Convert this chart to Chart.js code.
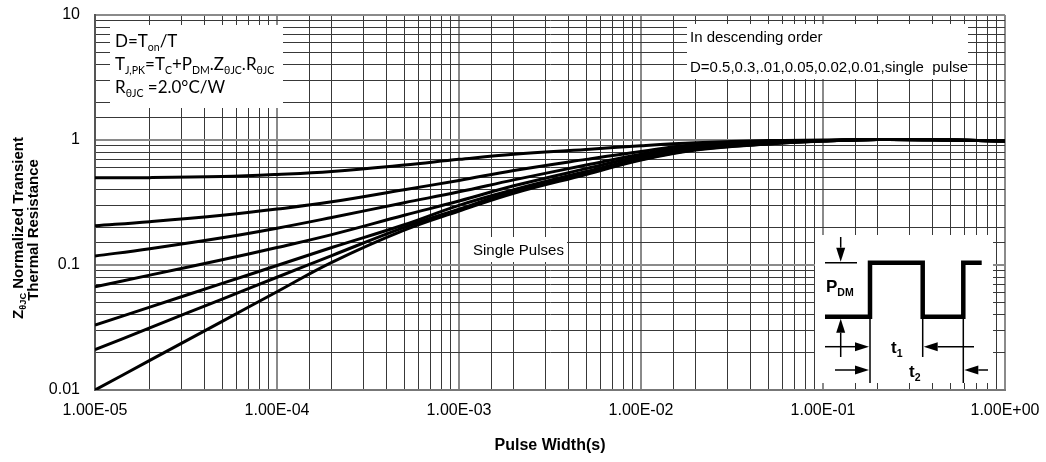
<!DOCTYPE html>
<html>
<head>
<meta charset="utf-8">
<script src="https://cdn.jsdelivr.net/npm/chart.js@4.4.0/dist/chart.umd.min.js"></script>
<style>
  html, body { margin: 0; padding: 0; background: #fff; }
  #wrap { width: 1046px; height: 462px; }
</style>
</head>
<body>
<div id="wrap"><canvas id="zth"></canvas></div>
<script>
// pulse width (s) and normalized Zth curves
const pulseWidth = [1e-5, 2e-5, 5e-5, 1e-4, 2e-4, 5e-4, 1e-3, 2e-3, 5e-3, 1e-2, 2e-2, 5e-2, 1e-1, 2e-1, 5e-1, 1];
const zD050 = [0.50, 0.50, 0.51, 0.53, 0.56, 0.63, 0.70, 0.77, 0.84, 0.90, 0.95, 0.99, 1.00, 1.01, 1.00, 0.98];
const zD030 = [0.206, 0.222, 0.25, 0.28, 0.32, 0.40, 0.475, 0.57, 0.70, 0.81, 0.92, 0.97, 0.99, 1.01, 1.00, 0.98];
const zD010 = [0.118, 0.135, 0.165, 0.197, 0.24, 0.315, 0.385, 0.48, 0.63, 0.77, 0.89, 0.96, 0.99, 1.01, 1.00, 0.98];
const zD005 = [0.067, 0.083, 0.11, 0.138, 0.175, 0.25, 0.325, 0.43, 0.59, 0.74, 0.87, 0.95, 0.99, 1.01, 1.00, 0.98];
const zD002 = [0.033, 0.046, 0.0713, 0.099, 0.138, 0.21, 0.30, 0.40, 0.56, 0.71, 0.85, 0.94, 0.98, 1.01, 1.00, 0.98];
const zD001 = [0.021, 0.0314, 0.0534, 0.0798, 0.119, 0.20, 0.28, 0.39, 0.545, 0.70, 0.84, 0.93, 0.98, 1.01, 1.00, 0.98];
const zSingle = [0.01, 0.01725, 0.0354, 0.0611, 0.105, 0.19, 0.27, 0.375, 0.53, 0.69, 0.83, 0.93, 0.98, 1.01, 1.00, 0.98];

const xDecades = [1e-5, 1e-4, 1e-3, 1e-2, 1e-1, 1];
const xTickLabels = ["1.00E-05", "1.00E-04", "1.00E-03", "1.00E-02", "1.00E-01", "1.00E+00"];
const yDecades = [0.01, 0.1, 1, 10];
const yTickLabels = ["0.01", "0.1", "1", "10"];

const FONT = "'Liberation Sans', Arial, sans-serif";

const isDecade = (v) => Math.abs(Math.log10(v) - Math.round(Math.log10(v))) < 1e-6;
const decadeLabel = (v, decades, labels) => {
  const i = decades.findIndex((d) => Math.abs(Math.log10(d) - Math.log10(v)) < 1e-6);
  return i >= 0 ? labels[i] : "";
};

const series = [zD050, zD030, zD010, zD005, zD002, zD001, zSingle];
const datasets = series.map((vals) => ({
  data: pulseWidth.map((t, i) => ({ x: t, y: vals[i] })),
  borderColor: "#000",
  borderWidth: 3,
  pointRadius: 0,
  fill: false,
  tension: 0.4,
}));

// draws text with subscript parts, returns width
function rich(ctx, parts, x, y, size, weight, family, measureOnly) {
  let cx = x;
  parts.forEach(([txt, sub]) => {
    const s = sub ? size * 0.62 : size;
    ctx.font = `${weight} ${s}px ${family}`;
    if (!measureOnly) ctx.fillText(txt, cx, sub ? y + size * 0.22 : y);
    cx += ctx.measureText(txt).width;
  });
  return cx - x;
}

function arrow(ctx, x1, y1, x2, y2) {
  const a = Math.atan2(y2 - y1, x2 - x1);
  const L = 14, W = 4.5;
  ctx.beginPath();
  ctx.moveTo(x1, y1);
  ctx.lineTo(x2 - L * Math.cos(a), y2 - L * Math.sin(a));
  ctx.stroke();
  ctx.beginPath();
  ctx.moveTo(x2, y2);
  ctx.lineTo(x2 - L * Math.cos(a) - W * Math.sin(a), y2 - L * Math.sin(a) + W * Math.cos(a));
  ctx.lineTo(x2 - L * Math.cos(a) + W * Math.sin(a), y2 - L * Math.sin(a) - W * Math.cos(a));
  ctx.closePath();
  ctx.fill();
}

const notes = {
  id: "notes",
  afterDraw(chart) {
    const ctx = chart.ctx;
    const ca = chart.chartArea;
    ctx.save();
    ctx.fillStyle = "#fff";
    // white label boxes over the grid
    ctx.fillRect(ca.left + 15, ca.top + 10, 173, 83);
    ctx.fillRect(ca.right - 318, ca.top + 9, 281, 55);
    ctx.fillRect(ca.left + 365, ca.top + 222, 107, 25);
    ctx.fillRect(ca.right - 190, ca.bottom - 155, 178, 148);

    ctx.fillStyle = "#000";
    ctx.textBaseline = "alphabetic";
    ctx.textAlign = "left";
    const lf = "Lato, 'Liberation Sans', sans-serif";
    let x0 = ca.left + 20;
    rich(ctx, [["D=T"], ["on", 1], ["/T"]], x0, ca.top + 32, 17, "normal", lf);
    rich(ctx, [["T"], ["J,PK", 1], ["=T"], ["C", 1], ["+P"], ["DM", 1], [".Z"], ["\u03b8JC", 1], [".R"], ["\u03b8JC", 1]], x0, ca.top + 55, 17, "normal", lf);
    rich(ctx, [["R"], ["\u03b8JC", 1], [" =2.0\u00b0C/W"]], x0, ca.top + 78, 17, "normal", lf);

    ctx.font = `15px ${FONT}`;
    ctx.fillText("In descending order", ca.right - 315, ca.top + 27);
    ctx.fillText("D=0.5,0.3,.01,0.05,0.02,0.01,single  pulse", ca.right - 315, ca.top + 57);
    ctx.fillText("Single Pulses", ca.left + 378, ca.top + 240);

    // pulse diagram inset
    const bx = ca.right - 190, by = ca.bottom - 155;
    const lo = by + 81.7, hi = by + 27.7;
    ctx.strokeStyle = "#000";
    ctx.lineWidth = 4.5;
    ctx.lineJoin = "miter";
    ctx.beginPath();
    ctx.moveTo(bx + 10, lo);
    ctx.lineTo(bx + 55, lo);
    ctx.lineTo(bx + 55, hi);
    ctx.lineTo(bx + 107.7, hi);
    ctx.lineTo(bx + 107.7, lo);
    ctx.lineTo(bx + 148.3, lo);
    ctx.lineTo(bx + 148.3, hi);
    ctx.lineTo(bx + 166.7, hi);
    ctx.stroke();

    ctx.lineWidth = 1.5;
    ctx.beginPath();
    ctx.moveTo(bx + 10, hi);
    ctx.lineTo(bx + 42, hi);
    ctx.moveTo(bx + 55, lo);
    ctx.lineTo(bx + 55, by + 148);
    ctx.moveTo(bx + 107.7, lo);
    ctx.lineTo(bx + 107.7, by + 122);
    ctx.moveTo(bx + 148.3, lo);
    ctx.lineTo(bx + 148.3, by + 148);
    ctx.stroke();
    arrow(ctx, bx + 25.7, by + 2, bx + 25.7, hi - 1);
    arrow(ctx, bx + 25.7, by + 122, bx + 25.7, lo + 2);
    arrow(ctx, bx + 10, by + 111.7, bx + 54, by + 111.7);
    arrow(ctx, bx + 159, by + 111.7, bx + 108.7, by + 111.7);
    arrow(ctx, bx + 20, by + 135, bx + 54, by + 135);
    arrow(ctx, bx + 173, by + 135, bx + 149.3, by + 135);

    const af = "Arial, 'Liberation Sans', sans-serif";
    rich(ctx, [["P"], ["DM", 1]], bx + 11, by + 57, 17, "bold", af);
    rich(ctx, [["t"], ["1", 1]], bx + 76, by + 118, 17, "bold", af);
    rich(ctx, [["t"], ["2", 1]], bx + 94, by + 142, 17, "bold", af);

    // y axis title, two rotated lines
    const l1 = [["Z"], ["\u03b8JC", 1], [" Normalized Transient"]];
    const l2 = [["Thermal Resistance"]];
    ctx.save();
    ctx.translate(23, 228);
    ctx.rotate(-Math.PI / 2);
    const w1 = rich(ctx, l1, 0, 0, 15, "bold", FONT, true);
    rich(ctx, l1, -w1 / 2, 0, 15, "bold", FONT);
    ctx.restore();
    ctx.save();
    ctx.translate(38, 230);
    ctx.rotate(-Math.PI / 2);
    const w2 = rich(ctx, l2, 0, 0, 15, "bold", FONT, true);
    rich(ctx, l2, -w2 / 2, 0, 15, "bold", FONT);
    ctx.restore();

    ctx.restore();
  },
};

const gridColor = (c) => (c.tick && isDecade(c.tick.value) ? "#8a8a8a" : "#383838");
const gridWidth = (c) => (c.tick && isDecade(c.tick.value) ? 2 : 1);

new Chart(document.getElementById("zth"), {
  type: "line",
  data: { datasets },
  options: {
    responsive: true,
    maintainAspectRatio: false,
    animation: false,
    devicePixelRatio: 1,
    layout: { padding: { top: 15, right: 41, left: 0, bottom: 0 } },
    plugins: { legend: { display: false }, tooltip: { enabled: false } },
    scales: {
      x: {
        type: "logarithmic",
        min: 1e-5,
        max: 1,
        afterFit: (s) => { s.height = 72; s.paddingLeft = 0; s.paddingRight = 0; },
        grid: { color: gridColor, lineWidth: gridWidth, drawTicks: false },
        border: { color: "#777", width: 2 },
        ticks: {
          autoSkip: false,
          maxRotation: 0,
          padding: 11,
          color: "#000",
          font: { family: FONT, size: 16 },
          callback: (v) => decadeLabel(v, xDecades, xTickLabels),
        },
        title: {
          display: true,
          text: "Pulse Width(s)",
          color: "#000",
          font: { family: FONT, size: 16, weight: "bold" },
          padding: { top: 0, bottom: 7 },
        },
      },
      y: {
        type: "logarithmic",
        min: 0.01,
        max: 10,
        afterFit: (s) => { s.width = 95; s.paddingTop = 0; s.paddingBottom = 0; },
        grid: { color: gridColor, lineWidth: gridWidth, drawTicks: false },
        border: { color: "#555", width: 2 },
        ticks: {
          autoSkip: false,
          padding: 15,
          color: "#000",
          font: { family: FONT, size: 16 },
          callback: (v) => decadeLabel(v, yDecades, yTickLabels),
        },
      },
    },
  },
  plugins: [notes],
});
</script>
</body>
</html>
